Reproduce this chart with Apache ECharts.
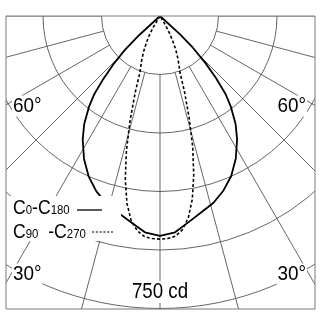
<!DOCTYPE html>
<html><head><meta charset="utf-8">
<script src="https://cdn.jsdelivr.net/npm/echarts@6/dist/echarts.min.js"></script>
<style>html,body{margin:0;padding:0;background:#fff}#c{width:320px;height:320px}</style>
</head><body><div id="c"></div>
<script>
// Intensity circles (cd) and radial grid angles (deg, 0 = straight down)
const circleStep = 150;
const circleMax = 750;
const radialAngles = [-90, -75, -60, -45, -30, -15, 0, 15, 30, 45, 60, 75, 90];
const degreeLabels = ['60°', '30°'];
const scaleLabel = '750 cd';

// C0 (right half) and C180 (left half), solid curve
const c0Angles   = [0, 4, 8, 12, 16, 20, 24, 28, 32, 35, 38, 40, 42, 44, 46, 47.5, 49];
const c0Values   = [564, 556, 533, 514, 498, 476, 449, 414, 373, 338, 295, 262, 215, 168, 118, 69, 0];
const c180Angles = [0, 4, 8, 12, 16, 20, 24, 28, 32, 35, 38, 40, 42, 44, 46, 47.5, 49];
const c180Values = [564, 556, 534, 516, 500, 478, 450, 415, 374, 339, 296, 263, 217, 172, 125, 72, 0];

// C90 (right half) and C270 (left half), dashed curve
const c90Angles  = [0, 2, 4, 6, 8, 10, 12, 14, 16, 18, 19.5, 21, 23, 25, 27, 29, 31, 32.5];
const c90Values  = [572, 571, 566, 551, 522, 477, 416, 347, 271, 202, 153, 136, 116, 96, 72, 50, 25, 0];
const c270Angles = [0, 2, 4, 6, 8, 10, 12, 14, 16, 18, 19.5, 21, 23, 25, 27, 29, 31, 32.5];
const c270Values = [572, 571, 567, 554, 530, 488, 428, 356, 278, 205, 154, 137, 118, 98, 76, 58, 34, 0];

const FONT = '"Liberation Sans", Arial, sans-serif';
const GRID = '#555';

function curve(angles, values, sign) {
  return angles.map((a, i) => [values[i], sign * a]);
}
const solidData = curve(c180Angles, c180Values, -1).reverse().concat(curve(c0Angles, c0Values, 1).slice(1));
const dashedData = curve(c270Angles, c270Values, -1).reverse().concat(curve(c90Angles, c90Values, 1).slice(1));

const radiusMax = 1350; // extends grid beyond the frame (masked)
const pxPerCd = 292.5 / circleMax;

const radialSeries = radialAngles.map(a => ({
  type: 'line', coordinateSystem: 'polar', silent: true, symbol: 'none', clip: false, z: 1,
  lineStyle: { color: GRID, width: 0.9 },
  data: [[circleStep, a], [radiusMax, a]]
}));

const subRich = { n: { fontSize: 13, fontFamily: FONT, lineHeight: 13, verticalAlign: 'bottom', padding: [0, 0, 1.5, 0] } };
function lbl(text, x, y, align, size, sx) {
  return { type: 'text', z: 103, x: x, y: y, scaleX: sx,
    style: { text: text, font: size + 'px ' + FONT, fill: '#000', backgroundColor: '#fff', padding: [0, 1], align: align, verticalAlign: 'middle' } };
}

const chart = echarts.init(document.getElementById('c'), null, { renderer: 'canvas' });
chart.setOption({
  animation: false,
  backgroundColor: '#fff',
  polar: { center: [160, 16], radius: radiusMax * pxPerCd },
  angleAxis: {
    type: 'value', min: -180, max: 180, startAngle: 90, clockwise: false,
    axisLine: { show: false }, axisTick: { show: false }, axisLabel: { show: false },
    splitLine: { show: false }
  },
  radiusAxis: {
    type: 'value', min: 0, max: radiusMax, interval: circleStep,
    axisLine: { show: false }, axisTick: { show: false }, axisLabel: { show: false },
    splitLine: { show: true, lineStyle: { color: GRID, width: 0.9 } }
  },
  series: radialSeries.concat([
    { type: 'line', coordinateSystem: 'polar', symbol: 'none', clip: false, z: 5,
      lineStyle: { color: '#000', width: 1.8 }, data: solidData },
    { type: 'line', coordinateSystem: 'polar', symbol: 'none', clip: false, z: 5,
      lineStyle: { color: '#000', width: 1.6, type: [3, 2.2] }, data: dashedData }
  ]),
  graphic: [
    // masks outside the frame
    { type: 'rect', z: 100, shape: { x: 0, y: 0, width: 320, height: 16 }, style: { fill: '#fff' } },
    { type: 'rect', z: 100, shape: { x: 0, y: 0, width: 6, height: 320 }, style: { fill: '#fff' } },
    { type: 'rect', z: 100, shape: { x: 315, y: 0, width: 5, height: 320 }, style: { fill: '#fff' } },
    { type: 'rect', z: 100, shape: { x: 0, y: 309, width: 320, height: 11 }, style: { fill: '#fff' } },
    { type: 'rect', z: 101, shape: { x: 6, y: 16, width: 309, height: 293 }, style: { fill: 'none', stroke: '#7a7a7a', lineWidth: 1 } },
    // legend box
    { type: 'rect', z: 102, shape: { x: 9, y: 196, width: 112, height: 45 }, style: { fill: '#fff' } },
    { type: 'text', z: 103, x: 13, y: 198, scaleX: 0.88,
      style: { text: 'C{n|0}-C{n|180}', font: '20px ' + FONT, fill: '#000', lineHeight: 20, verticalAlign: 'top', rich: subRich } },
    { type: 'line', z: 103, shape: { x1: 77, y1: 210, x2: 102, y2: 210 }, style: { stroke: '#000', lineWidth: 1.3 } },
    { type: 'text', z: 103, x: 13, y: 222, scaleX: 0.88,
      style: { text: 'C{n|90}  -C{n|270}', font: '20px ' + FONT, fill: '#000', lineHeight: 20, verticalAlign: 'top', rich: subRich } },
    { type: 'line', z: 103, shape: { x1: 92, y1: 232, x2: 113, y2: 232 }, style: { stroke: '#000', lineWidth: 1.2, lineDash: [2.2, 1.6] } },
    // degree labels and scale
    lbl(degreeLabels[0], 12, 106, 'left', 21, 0.9),
    lbl(degreeLabels[0], 307, 106, 'right', 21, 0.9),
    lbl(degreeLabels[1], 12, 274, 'left', 21, 0.9),
    lbl(degreeLabels[1], 307, 274, 'right', 21, 0.9),
    lbl(scaleLabel, 160, 292, 'center', 22, 0.85)
  ]
});
</script></body></html>
